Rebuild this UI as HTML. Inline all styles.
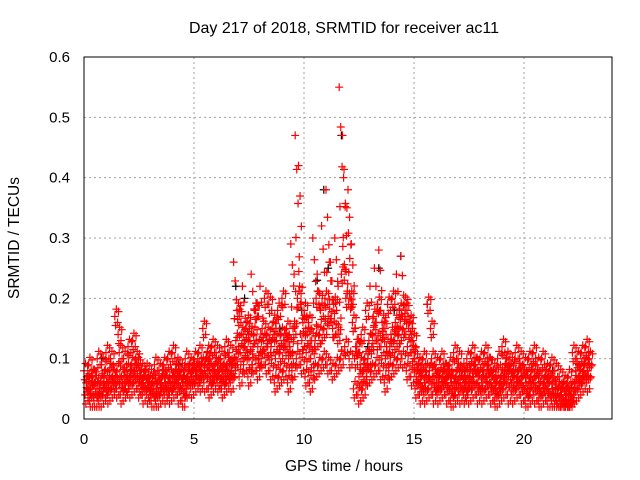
<!DOCTYPE html>
<html><head><meta charset="utf-8"><style>
body{margin:0;background:#fff}
svg{display:block;font-family:"Liberation Sans",sans-serif}
</style></head><body>
<svg id="chart" width="640" height="480" viewBox="0 0 640 480">
<rect width="640" height="480" fill="#fff"/>
<g id="grid"></g>
<g id="black"></g>
<g id="red"></g>
<rect x="84" y="57" width="528" height="362" fill="none" stroke="#000" stroke-width="1"/>
<g id="ticks"></g>
<text x="344" y="33" font-size="16" text-anchor="middle">Day 217 of 2018, SRMTID for receiver ac11</text>
<text transform="translate(19,238) rotate(-90)" font-size="15.5" text-anchor="middle">SRMTID / TECUs</text>
<text x="344" y="471" font-size="15.5" text-anchor="middle">GPS time / hours</text>
</svg>
<script>
const xTicks=[0,5,10,15,20];
const yTicks=[0,0.1,0.2,0.3,0.4,0.5,0.6];
const yTickLabels=["0","0.1","0.2","0.3","0.4","0.5","0.6"];
const tStart=0, tStep=0.2;
const seriesA=[.08,.09,.07,.10,.09,.11,.10,.17,.11,.10,.12,.13,.09,.08,.08,.07,.09,.08,.09,.10,.11,.09,.08,.10,.09,.10,.11,.15,.11,.12,.11,.10,.12,.11,.26,.17,.22,.16,.24,.18,.22,.20,.19,.16,.18,.20,.15,.29,.47,.22,.18,.16,.30,.24,.32,.38,.26,.30,.55,.40,.38,.16,.12,.14,.18,.22,.25,.28,.15,.19,.20,.24,.27,.18,.16,.10,.09,.10,.19,.10,.09,.10,.08,.09,.11,.10,.08,.10,.11,.09,.10,.11,.09,.08,.10,.12,.10,.09,.11,.10,.09,.10,.11,.09,.10,.08,.09,.08,.07,.06,.07,.11,.10,.11,.12];
const seriesB=[.06,.05,.06,.05,.07,.06,.07,.08,.07,.06,.07,.08,.06,.06,.05,.06,.05,.06,.06,.07,.07,.06,.06,.07,.07,.08,.08,.09,.08,.08,.07,.08,.09,.08,.13,.11,.12,.10,.14,.12,.15,.14,.12,.10,.11,.13,.10,.15,.20,.13,.11,.10,.13,.14,.15,.17,.15,.14,.24,.20,.20,.10,.07,.08,.10,.14,.13,.12,.10,.12,.13,.14,.15,.12,.11,.07,.06,.06,.08,.07,.06,.07,.06,.06,.07,.06,.05,.07,.07,.06,.06,.07,.06,.05,.06,.08,.07,.06,.07,.06,.06,.07,.06,.05,.06,.05,.05,.04,.04,.04,.04,.06,.07,.08,.08];
const seriesC=[.04,.03,.03,.03,.04,.04,.05,.05,.04,.05,.05,.06,.05,.04,.04,.03,.03,.04,.04,.04,.05,.04,.03,.05,.05,.06,.06,.06,.05,.06,.06,.05,.06,.06,.10,.07,.09,.07,.09,.08,.10,.09,.08,.06,.07,.08,.06,.08,.10,.09,.07,.06,.08,.09,.10,.09,.08,.09,.10,.12,.10,.05,.04,.05,.07,.08,.09,.08,.06,.08,.09,.10,.10,.08,.07,.05,.04,.04,.05,.04,.04,.05,.04,.03,.04,.04,.04,.04,.05,.04,.04,.05,.04,.03,.04,.05,.04,.04,.05,.04,.03,.04,.04,.03,.04,.03,.03,.03,.02,.02,.02,.04,.05,.06,.06];
const seriesD=[.05,.07,.05,.06,.05,.08,.06,.14,.06,.08,.09,.10,.07,.07,.06,.05,.06,.07,.05,.06,.08,.07,.05,.08,.08,.07,.09,.10,.07,.09,.08,.07,.08,.09,.18,.14,.15,.13,.18,.10,.13,.12,.15,.13,.14,.12,.12,.24,.42,.16,.14,.13,.20,.18,.20,.26,.19,.22,.47,.35,.29,.12,.09,.10,.13,.17,.19,.16,.12,.14,.16,.18,.19,.15,.13,.08,.07,.08,.15,.06,.07,.08,.07,.05,.08,.07,.06,.08,.09,.07,.08,.09,.07,.06,.07,.09,.08,.07,.08,.07,.05,.08,.07,.06,.07,.06,.04,.05,.05,.03,.05,.08,.08,.09,.10];
const blackTimes=[0.8,2.1,4.3,6.9,7.3,8.9,9.9,10.6,10.9,11.1,11.7,12.9,13.4,14.1,14.4,15.6,17.3,19.7,21.3,22.5];
const blackVals=[.10,.08,.09,.22,.20,.15,.18,.23,.38,.25,.47,.12,.25,.18,.27,.19,.08,.07,.08,.09];
const X0=84,X1=612,Y0=419,Y1=57,XMAX=24,YMAX=0.6;
const sx=t=>X0+(X1-X0)*t/XMAX, sy=v=>Y0-(Y0-Y1)*v/YMAX;
const NS="http://www.w3.org/2000/svg";
function mk(tag,parent){const e=document.createElementNS(NS,tag);parent.appendChild(e);return e;}
const grid=document.getElementById('grid'), ticks=document.getElementById('ticks');
xTicks.forEach(t=>{const x=sx(t);
 if(t>0){const l=mk('line',grid);l.setAttribute('x1',x);l.setAttribute('x2',x);l.setAttribute('y1',Y1);l.setAttribute('y2',Y0);l.setAttribute('stroke','#a0a0a0');l.setAttribute('stroke-dasharray','2,3');
 
 }
 const tx=mk('text',ticks);tx.setAttribute('x',x);tx.setAttribute('y',444);tx.setAttribute('font-size','15');tx.setAttribute('text-anchor','middle');tx.textContent=t;
 
 
});
yTicks.forEach((v,i)=>{const y=sy(v);
 if(v>0&&v<0.6){const l=mk('line',grid);l.setAttribute('x1',X0);l.setAttribute('x2',X1);l.setAttribute('y1',y);l.setAttribute('y2',y);l.setAttribute('stroke','#a0a0a0');l.setAttribute('stroke-dasharray','2,3');
 
 }
 const tx=mk('text',ticks);tx.setAttribute('x',70);tx.setAttribute('y',y+5);tx.setAttribute('font-size','15');tx.setAttribute('text-anchor','end');tx.textContent=yTickLabels[i];
 
 
});
function plus(g,t,v,c){const x=sx(t),y=sy(v);const p=mk('path',g);p.setAttribute('d',`M${x-4},${y}h8M${x},${y-4}v8`);p.setAttribute('stroke',c);p.setAttribute('stroke-width','1.2');p.setAttribute('fill','none');
 
 }
const black=document.getElementById('black'), red=document.getElementById('red');
blackTimes.forEach((t,i)=>plus(black,t,blackVals[i],'#000'));
const offs=[0,0.1,0.05,0.15];
// replicate each series with small fixed shifts to mimic the dense sampling
const copies=[[0,0],[0.07,0.012],[0.13,-0.01],[0.035,-0.015],[0.165,0.008]];
[seriesA,seriesB,seriesC,seriesD].forEach((s,k)=>s.forEach((v,i)=>copies.forEach((c,j)=>{
  const vv=(j>0&&v>0.2&&k!==1)?v*(1-0.12*j):v+c[1];
  plus(red,tStart+i*tStep+offs[k]+c[0],Math.max(0.02,vv),'#f00');
})));
</script>
</body></html>
